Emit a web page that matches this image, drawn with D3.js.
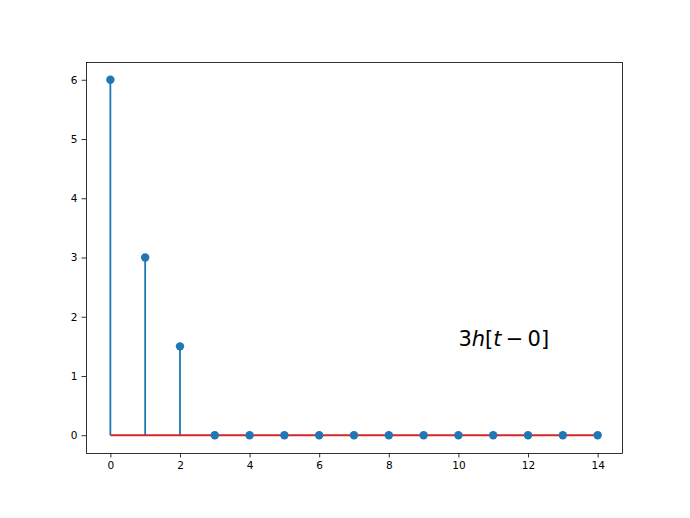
<!DOCTYPE html>
<html>
<head>
<meta charset="utf-8">
<script src="https://cdn.jsdelivr.net/npm/d3@7"></script>
<style>
  body { margin: 0; background: #fff; }
  text { font-family: "DejaVu Sans", sans-serif; }
</style>
</head>
<body>
<script>
// stem plot data: 3h[t-0]
const tValues = [0, 1, 2, 3, 4, 5, 6, 7, 8, 9, 10, 11, 12, 13, 14];
const yValues = [6, 3, 1.5, 0, 0, 0, 0, 0, 0, 0, 0, 0, 0, 0, 0];
const xTicks = [0, 2, 4, 6, 8, 10, 12, 14];
const yTicks = [0, 1, 2, 3, 4, 5, 6];

const width = 690, height = 518;
const margin = {left: 86, right: 68, top: 62, bottom: 65};

const svg = d3.select('body').append('svg')
	.attr('width', width)
	.attr('height', height);

const x = d3.scaleLinear()
	.domain([-0.7, 14.7])
	.range([margin.left, width - margin.right]);

const y = d3.scaleLinear()
	.domain([-0.3, 6.3])
	.range([height - margin.bottom, margin.top]);

const data = tValues.map((t, i) => ({t: t, v: yValues[i]}));

// stems
svg.selectAll('line.stem')
	.data(data)
	.enter().append('line')
	.attr('class', 'stem')
	.attr('x1', d => x(d.t)).attr('x2', d => x(d.t))
	.attr('y1', y(0)).attr('y2', d => y(d.v))
	.attr('stroke', '#1f77b4')
	.attr('stroke-width', 1.8);

// baseline
svg.append('line')
	.attr('x1', x(d3.min(tValues))).attr('x2', x(d3.max(tValues)))
	.attr('y1', y(0)).attr('y2', y(0))
	.attr('stroke', '#d62728')
	.attr('stroke-width', 1.8);

// markers
svg.selectAll('circle.mark')
	.data(data)
	.enter().append('circle')
	.attr('class', 'mark')
	.attr('cx', d => x(d.t))
	.attr('cy', d => y(d.v))
	.attr('r', 4.2)
	.attr('fill', '#1f77b4');

// axes
const xAxis = d3.axisBottom(x).tickValues(xTicks).tickFormat(d3.format('d'))
	.tickSizeOuter(0).tickSize(4.5).tickPadding(4);
const yAxis = d3.axisLeft(y).tickValues(yTicks).tickFormat(d3.format('d'))
	.tickSizeOuter(0).tickSize(4.5).tickPadding(4);

const gx = svg.append('g')
	.attr('transform', `translate(0,${height - margin.bottom})`)
	.call(xAxis);
const gy = svg.append('g')
	.attr('transform', `translate(${margin.left},0)`)
	.call(yAxis);

[gx, gy].forEach(g => {
	g.select('.domain').remove();
	g.selectAll('text').attr('font-size', 10.5).attr('fill', '#000')
		.style('font-family', '"DejaVu Sans", sans-serif');
	g.selectAll('line').attr('stroke', '#000').attr('stroke-width', 0.8);
});

// frame
svg.append('rect')
	.attr('x', margin.left + 0.5).attr('y', margin.top + 0.5)
	.attr('width', width - margin.left - margin.right)
	.attr('height', height - margin.top - margin.bottom)
	.attr('fill', 'none')
	.attr('stroke', '#000')
	.attr('stroke-width', 0.8);

// annotation
const label = svg.append('text')
	.attr('x', x(10))
	.attr('y', y(1.5))
	.attr('font-size', 21)
	.attr('fill', '#000');
label.append('tspan').text('3');
label.append('tspan').attr('font-style', 'italic').text('h');
label.append('tspan').text('[');
label.append('tspan').attr('font-style', 'italic').text('t');
label.append('tspan').text('\u2009\u2212\u20090]');
</script>
</body>
</html>
